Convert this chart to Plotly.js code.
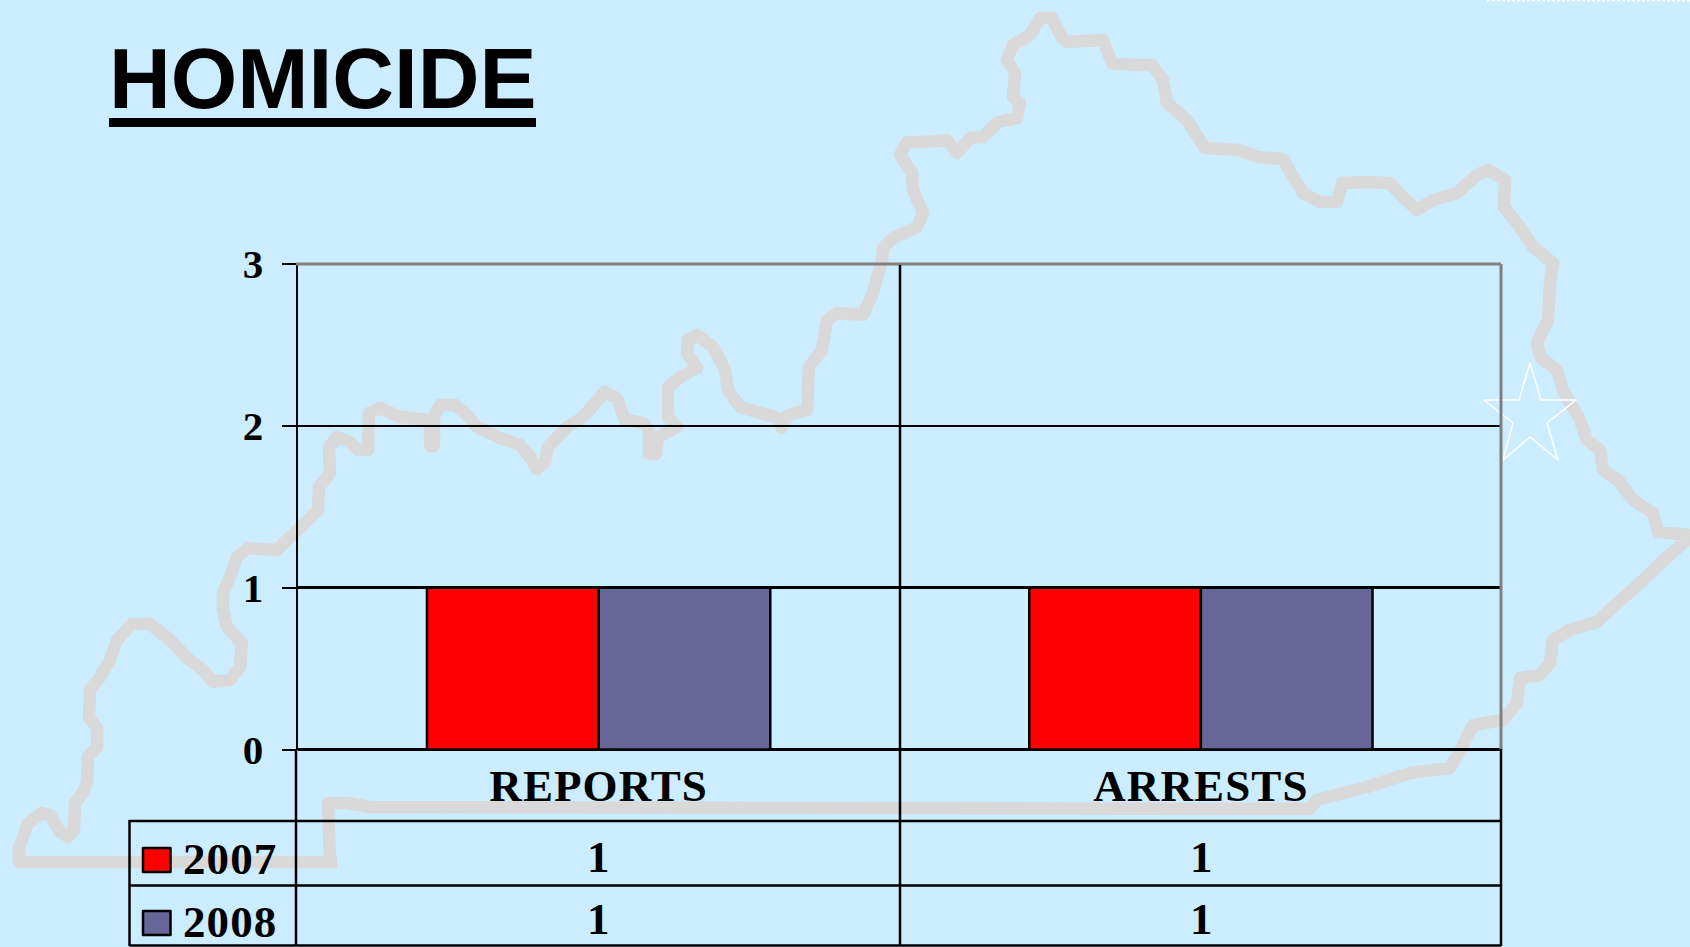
<!DOCTYPE html>
<html>
<head>
<meta charset="utf-8">
<script src="https://cdn.plot.ly/plotly-3.0.1.min.js"></script>
<style>
html,body{margin:0;padding:0;background:#CCECFF;overflow:hidden}
.xtick text,.annotation-text{letter-spacing:1.1px}
.shapelayer path{stroke-linejoin:round}
</style>
</head>
<body>
<div id="chart" style="width:1690px;height:947px"></div>
<script>
// ----- chart data -----
const categories = ["REPORTS", "ARRESTS"];
const seriesNames = ["2007", "2008"];
const values2007 = [1, 1];
const values2008 = [1, 1];
const yTicks = [0, 1, 2, 3];
const chartTitle = "HOMICIDE";

// ----- colours and page geometry -----
const W = 1690, H = 947;
const BG = "#CCECFF", RED = "#FF0000", PURPLE = "#666699", MAP = "#D9D9D9", GREY = "#808080";
const SERIF = '"Liberation Serif", "Times New Roman", serif';
const SANS = '"Liberation Sans", Arial, sans-serif';
const fx = x => x / W, fy = y => 1 - y / H;

// state outline behind the chart (page pixels)
const outline = [[337,862],[19,862],[19,848],[28,823],[42,813],[50,815],[60,832],[68,837],[74,830],[75,803],[83,792],[87,783],[88,757],[97,747],[97,728],[89,717],[90,690],[100,677],[110,660],[117,640],[132,624],[150,624],[170,640],[187,658],[203,670],[213,682],[230,680],[240,667],[242,643],[227,627],[223,610],[223,593],[230,577],[237,557],[248,548],[277,550],[287,540],[300,528],[318,510],[319,487],[330,473],[329,447],[337,437],[350,442],[358,450],[368,450],[369,413],[380,408],[400,417],[430,420],[430,446],[434,446],[434,417],[440,405],[455,405],[467,415],[477,427],[500,438],[520,445],[530,457],[537,469],[545,462],[548,447],[567,427],[583,417],[605,392],[617,398],[625,420],[643,423],[649,430],[649,454],[656,454],[658,437],[677,427],[668,417],[668,387],[680,377],[697,368],[687,353],[688,340],[697,335],[713,347],[725,370],[728,390],[740,407],[760,413],[777,418],[782,428],[788,415],[807,410],[809,367],[822,350],[827,320],[837,313],[863,315],[873,293],[882,260],[883,248],[893,238],[917,227],[923,213],[913,190],[912,173],[900,155],[907,142],[923,142],[947,140],[957,153],[970,138],[983,137],[998,122],[1017,118],[1020,103],[1013,97],[1015,73],[1007,60],[1013,45],[1030,35],[1040,18],[1052,18],[1062,38],[1067,42],[1103,40],[1112,63],[1133,65],[1152,65],[1163,80],[1167,103],[1187,120],[1205,148],[1240,150],[1257,157],[1283,159],[1295,180],[1303,193],[1320,202],[1337,202],[1342,183],[1367,182],[1390,183],[1403,197],[1417,210],[1433,200],[1457,193],[1477,175],[1488,170],[1505,180],[1504,207],[1520,227],[1533,247],[1553,263],[1550,283],[1548,320],[1537,343],[1540,357],[1557,370],[1563,390],[1580,420],[1587,440],[1600,450],[1603,470],[1618,480],[1633,500],[1653,513],[1658,532],[1690,535],[1687,540],[1667,557],[1640,583],[1613,607],[1597,622],[1570,630],[1553,640],[1550,663],[1540,675],[1520,678],[1517,703],[1503,720],[1473,725],[1462,747],[1450,768],[1410,773],[1367,787],[1343,793],[1317,800],[1310,809],[370,807],[347,803],[328,803],[330,862],[337,862]];
const star = [[1530,363],[1541,400],[1576,400],[1547,423],[1558,460],[1530,437],[1503,460],[1513,423],[1484,400],[1519,400]];

const toPath = (pts, close) => "M" + pts.map(p => fx(p[0]).toFixed(5) + " " + fy(p[1]).toFixed(5)).join(" L") + (close ? " Z" : "");
const line = (x0, y0, x1, y1, color, width, extra) => Object.assign({type:"line", xref:"paper", yref:"paper",
  x0:fx(x0), y0:fy(y0), x1:fx(x1), y1:fy(y1), line:{color:color, width:width}}, extra || {});
const rect = (x0, y0, x1, y1, fill) => ({type:"rect", xref:"paper", yref:"paper",
  x0:fx(x0), y0:fy(y0), x1:fx(x1), y1:fy(y1), fillcolor:fill, line:{color:"#000", width:2.5}});

const shapes = [
  {type:"path", layer:"below", xref:"paper", yref:"paper", path:toPath(outline, false),
   line:{color:MAP, width:12.5}},
  {type:"path", xref:"paper", yref:"paper", path:toPath(star, true), fillcolor:"rgba(0,0,0,0)",
   line:{color:"#FFFFFF", width:1.5}},
  line(1487, 0.5, W, 0.5, "#FFFFFF", 2, {line:{color:"#FFFFFF", width:2, dash:"3px,2px"}}),
  // chart frame
  line(296, 264, 1501, 264, GREY, 3),
  line(1501, 264, 1501, 750, GREY, 3),
  // data-table grid
  line(900, 265, 900, 946, "#000", 2.5),
  line(296, 749, 296, 946, "#000", 2.5),
  line(1501, 749, 1501, 946, "#000", 2.5),
  line(129.5, 821, 1501, 821, "#000", 2.5),
  line(129.5, 885.5, 1501, 885.5, "#000", 2.5),
  line(129.5, 945.5, 1501, 945.5, "#000", 2.5),
  line(129.5, 820, 129.5, 946, "#000", 2.5),
  // legend keys
  rect(143, 848, 170.5, 872, RED),
  rect(143, 911, 170.5, 935, PURPLE),
  // title underline
  line(109, 122.5, 536, 122.5, "#000", 9)
];

const tableFont = {family:SERIF, size:45, color:"#000", weight:700};
const cellX = [598.5, 1202], rowY = [857, 919], labelY = [859, 922];
const annotations = [];
[values2007, values2008].forEach((vals, r) => {
  annotations.push({xref:"paper", yref:"paper", x:fx(181), y:fy(labelY[r]), xanchor:"left", yanchor:"middle",
    text:seriesNames[r], showarrow:false, font:tableFont});
  vals.forEach((v, c) => annotations.push({xref:"paper", yref:"paper", x:fx(cellX[c]), y:fy(rowY[r]),
    xanchor:"center", yanchor:"middle", text:String(v), showarrow:false, font:tableFont}));
});

const barLine = {color:"#000", width:2.5};
const traces = [
  {type:"bar", name:seriesNames[0], x:categories, y:values2007, marker:{color:RED, line:barLine}},
  {type:"bar", name:seriesNames[1], x:categories, y:values2008, marker:{color:PURPLE, line:barLine}}
];

const layout = {
  width:W, height:H,
  margin:{l:0, r:0, t:0, b:0, pad:0},
  paper_bgcolor:BG, plot_bgcolor:"rgba(0,0,0,0)",
  showlegend:false, barmode:"group", bargap:0.43, bargroupgap:0,
  title:{text:chartTitle, xref:"paper", yref:"paper", x:fx(109), xanchor:"left", y:fy(78), yanchor:"middle",
         font:{family:SANS, size:85.5, color:"#000", weight:700}},
  xaxis:{domain:[fx(297.5), fx(1502)], type:"category", showgrid:false, zeroline:false, showline:false,
         ticks:"", ticklabelstandoff:5, tickfont:{family:SERIF, size:45, color:"#000", weight:700}},
  yaxis:{domain:[fy(749.5), fy(264)], range:[0, 3], tickvals:yTicks, ticktext:yTicks.map(String),
         showgrid:true, gridcolor:"#000", gridwidth:2.5, zeroline:true, zerolinecolor:"#000", zerolinewidth:3,
         showline:true, linecolor:"#000", linewidth:2, ticks:"outside", ticklen:14, tickcolor:"#000", tickwidth:2,
         ticklabelstandoff:10, tickfont:{family:SERIF, size:41, color:"#000", weight:700}},
  shapes:shapes, annotations:annotations
};

Plotly.newPlot("chart", traces, layout, {displayModeBar:false, staticPlot:true});
</script>
</body>
</html>
